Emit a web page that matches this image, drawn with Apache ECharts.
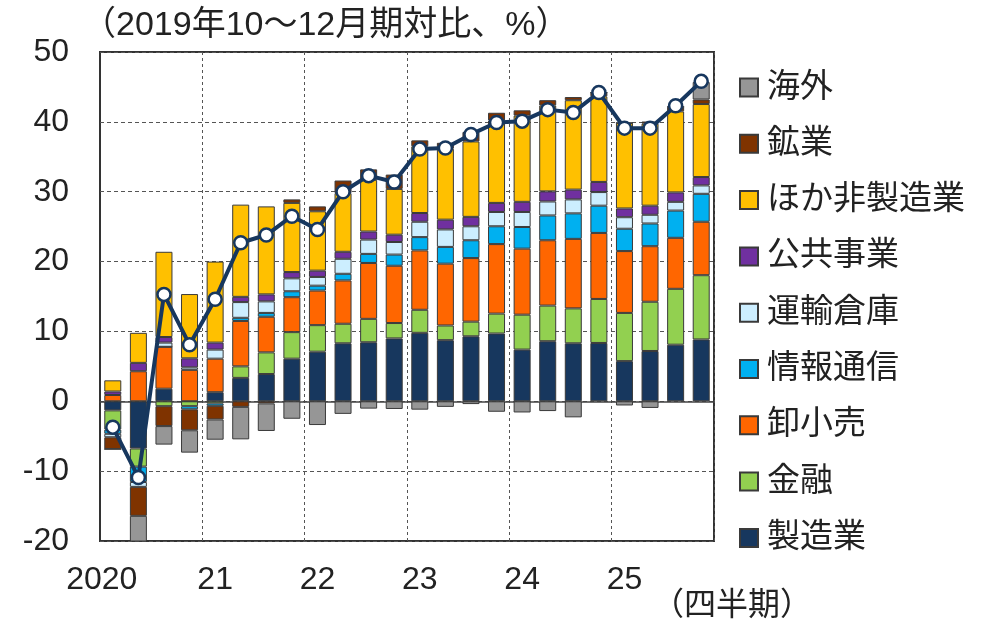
<!DOCTYPE html>
<html>
<head>
<meta charset="utf-8">
<script src="https://cdn.jsdelivr.net/npm/echarts@6/dist/echarts.min.js"></script>
<style>
  html, body { margin: 0; padding: 0; background: #fff; }
  #chart { width: 993px; height: 628px; }
</style>
</head>
<body>
<div id="chart"></div>
<script>
// 2020Q1 .. 2025Q4
const quarters = [
  '2020Q1', '2020Q2', '2020Q3', '2020Q4', '2021Q1', '2021Q2', '2021Q3', '2021Q4',
  '2022Q1', '2022Q2', '2022Q3', '2022Q4', '2023Q1', '2023Q2', '2023Q3', '2023Q4',
  '2024Q1', '2024Q2', '2024Q3', '2024Q4', '2025Q1', '2025Q2', '2025Q3', '2025Q4'
];
const yearLabels = ['2020', '21', '22', '23', '24', '25'];

const manufacturing = [-1.3, -6.75, 1.8, 0, 1.3, 3.35, 3.9, 6.1, 7.1, 8.3, 8.45, 9.0, 9.8, 8.75, 9.3, 9.7, 7.4, 8.6, 8.3, 8.35, 5.75, 7.2, 8.1, 8.85];
const finance = [-2.75, -2.6, -0.7, -0.7, -0.3, 1.65, 3.1, 3.8, 3.8, 2.8, 3.35, 2.2, 3.3, 2.1, 2.1, 2.85, 5.0, 5.1, 5.0, 6.3, 6.9, 7.05, 8.0, 9.2];
const trade = [0.9, 4.3, 6.0, 4.5, 4.8, 6.5, 5.1, 5.0, 4.95, 6.2, 8.0, 8.2, 8.5, 8.85, 9.1, 9.95, 9.45, 9.35, 9.95, 9.45, 8.85, 7.95, 7.3, 7.65];
const infoComm = [-0.6, -2.2, 0, -0.45, -0.35, 0.45, 0.55, 0.85, 0.7, 0.95, 1.3, 1.6, 1.9, 2.4, 2.55, 2.55, 3.1, 3.55, 3.65, 3.9, 3.2, 3.25, 3.9, 4.0];
const transport = [-0.5, -0.7, 0.6, 0.35, 1.3, 2.25, 1.65, 1.85, 1.25, 2.15, 2.05, 1.8, 2.2, 2.5, 2.0, 2.05, 2.15, 2.0, 2.0, 1.95, 1.65, 1.25, 1.25, 1.2];
const utilities = [0.5, 1.2, 0.8, 1.3, 1.0, 0.75, 1.0, 0.9, 0.9, 1.0, 1.15, 1.05, 1.25, 1.4, 1.35, 1.3, 1.45, 1.45, 1.4, 1.45, 1.25, 1.3, 1.35, 1.2];
const otherNonMfg = [1.6, 4.3, 12.2, 9.2, 11.6, 13.2, 12.6, 9.9, 8.5, 8.4, 7.4, 6.55, 9.55, 10.15, 10.8, 11.8, 12.35, 12.3, 12.8, 12.25, 12.25, 11.75, 11.6, 10.45];
const mining = [-1.7, -4.15, -2.85, -3.0, -1.95, -0.8, -0.3, 0.5, 0.7, 1.8, 1.5, 2.05, 0.85, 0.85, 1.35, 1.1, 0.75, 0.75, 0.45, 0.55, 0, 0.3, 0.65, 0.65];
const overseas = [0, -3.8, -2.65, -3.2, -2.9, -4.65, -3.95, -2.5, -3.4, -1.8, -1.05, -1.1, -1.2, -0.8, -0.4, -1.5, -1.6, -1.4, -2.3, 0, -0.6, -0.95, 0, 2.5];
const total = [-3.7, -10.9, 15.3, 8.1, 14.6, 22.7, 23.8, 26.5, 24.6, 30.0, 32.3, 31.4, 36.1, 36.25, 38.2, 39.9, 40.1, 41.75, 41.35, 44.2, 39.1, 39.1, 42.3, 45.8];

const stackSeries = [
  { name: '製造業', data: manufacturing, color: '#17375e' },
  { name: '金融', data: finance, color: '#92d050' },
  { name: '卸小売', data: trade, color: '#ff6600' },
  { name: '情報通信', data: infoComm, color: '#00b0f0' },
  { name: '運輸倉庫', data: transport, color: '#cceeff' },
  { name: '公共事業', data: utilities, color: '#7030a0' },
  { name: 'ほか非製造業', data: otherNonMfg, color: '#ffc000' },
  { name: '鉱業', data: mining, color: '#7f3300' },
  { name: '海外', data: overseas, color: '#969696' }
];

const font = "'Liberation Sans', 'Noto Sans CJK JP', sans-serif";
const chart = echarts.init(document.getElementById('chart'));

const series = stackSeries.map(s => ({
  name: s.name,
  type: 'bar',
  stack: 'total',
  barWidth: 17,
  data: s.data,
  itemStyle: { color: s.color, borderColor: '#3a3a3a', borderWidth: 1 }
}));
series.push({
  name: '合計',
  type: 'line',
  data: total,
  z: 10,
  symbol: 'circle',
  symbolSize: 13,
  lineStyle: { color: '#17375e', width: 4 },
  itemStyle: { color: '#fff', borderColor: '#17375e', borderWidth: 2.5 }
});

chart.setOption({
  animation: false,
  textStyle: { fontFamily: font },
  grid: {
    left: 100, right: 279, top: 52, bottom: 87,
    show: true, borderColor: '#333', borderWidth: 2
  },
  legend: {
    orient: 'vertical',
    left: 734,
    top: 66,
    icon: 'rect',
    itemWidth: 18,
    itemHeight: 18,
    itemGap: 23.3,
    data: stackSeries.map(s => s.name).reverse(),
    textStyle: { fontSize: 33, lineHeight: 33, color: '#222', fontFamily: font, padding: [0, 0, 0, 4] }
  },
  xAxis: {
    type: 'category',
    data: quarters,
    axisLine: { onZero: true, lineStyle: { color: '#444', width: 1.5 } },
    axisTick: { show: false },
    axisLabel: {
      interval: 0,
      margin: 23,
      fontSize: 32,
      color: '#222',
      formatter: (v, i) => {
        if (i % 4 !== 0) return '';
        return i === 0 ? '{first|' + yearLabels[0] + '}' : yearLabels[i / 4];
      },
      rich: { first: { fontSize: 32, color: '#222', padding: [0, 22, 0, 0] } }
    },
    splitLine: {
      show: true,
      interval: (i) => i % 4 === 0 && i > 0,
      lineStyle: { color: '#555', type: [3, 3], width: 1 }
    }
  },
  yAxis: {
    type: 'value',
    min: -20,
    max: 50,
    interval: 10,
    axisLine: { show: false },
    axisTick: { show: false },
    axisLabel: { fontSize: 32, color: '#222', margin: 31 },
    splitLine: { lineStyle: { color: '#555', type: [4, 3], width: 1 } }
  },
  graphic: [
    {
      type: 'text', left: 82, top: 9,
      style: { text: '（2019年10～12月期対比、%）', fill: '#222', font: '34px ' + font }
    },
    {
      type: 'text', left: 652, top: 590,
      style: { text: '（四半期）', fill: '#222', font: '32px ' + font }
    }
  ],
  series: series
});
</script>
</body>
</html>
